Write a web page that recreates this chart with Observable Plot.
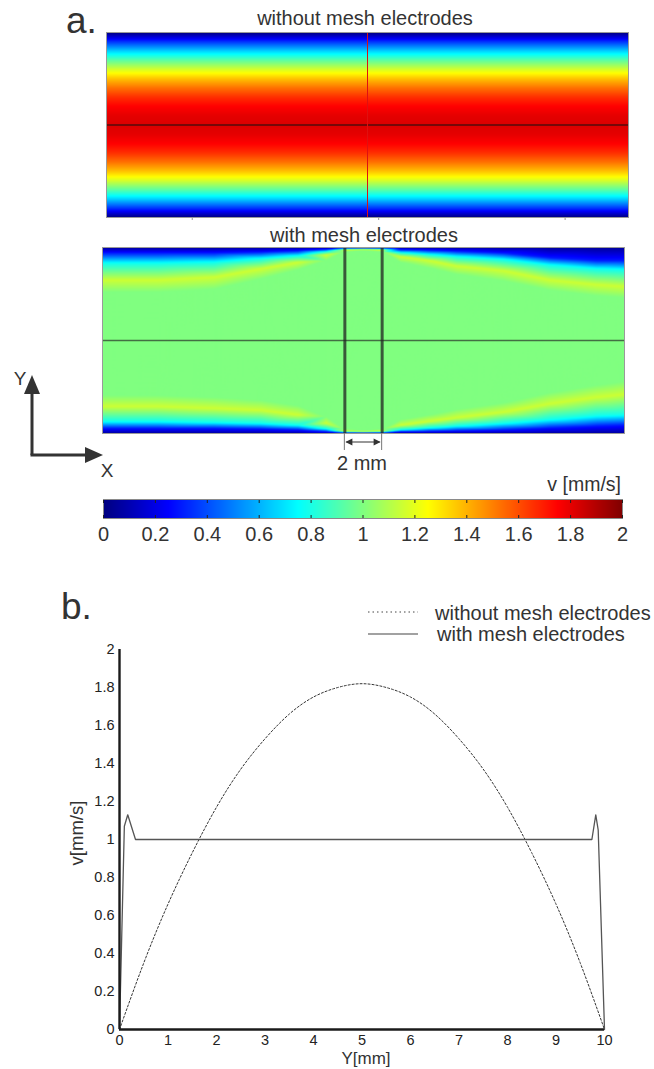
<!DOCTYPE html>
<html>
<head>
<meta charset="utf-8">
<script src="https://cdn.jsdelivr.net/npm/d3@7"></script>
<script src="https://cdn.jsdelivr.net/npm/@observablehq/plot@0.6"></script>
<style>
html, body { margin: 0; padding: 0; background: #fff; }
#root { position: relative; width: 654px; height: 1069px; overflow: hidden; font-family: "Liberation Sans", Arial, sans-serif; }
.pane { position: absolute; left: 0; }
#overlay { position: absolute; left: 0; top: 0; pointer-events: none; font-family: "Liberation Sans", Arial, sans-serif; }
</style>
</head>
<body>
<div id="root"></div>
<script>
// ---------------- DATA ----------------
// Panel b: velocity profile across the channel (Y in mm, v in mm/s)
const profileY = [0, 0.5, 1, 1.5, 2, 2.5, 3, 3.5, 4, 4.5, 5, 5.5, 6, 6.5, 7, 7.5, 8, 8.5, 9, 9.5, 10];
const withoutV = [0, 0.35, 0.66, 0.93, 1.17, 1.37, 1.53, 1.66, 1.75, 1.80, 1.82, 1.80, 1.75, 1.66, 1.53, 1.37, 1.17, 0.93, 0.66, 0.35, 0];
const withY = [0, 0.1, 0.17, 0.33, 9.74, 9.82, 9.87, 10];
const withV = [0, 1.07, 1.13, 1.0, 1.0, 1.13, 1.05, 0];

const seriesLabels = ["without mesh electrodes", "with mesh electrodes"];
const vTicks = [0, 0.2, 0.4, 0.6, 0.8, 1, 1.2, 1.4, 1.6, 1.8, 2];
const yTicks = [0, 1, 2, 3, 4, 5, 6, 7, 8, 9, 10];

// Panel a: channel geometry (mm)
const channelLength = 28;
const channelWidth = 10;
const centerLine = [5];
const probeLine = [14];
const electrodeX = [13, 15];
const topTicks = [4.6, 14.6, 24.6];

// Panel a (with electrodes): wall band depths (mm from wall) at columns along X
const hmX       = [0,    3,    6,    8.5,  10.5, 12,   13,   14,   15,   16,   17.5, 19,   21.5, 24,   26.5, 28];
const topBlue   = [0.3,  0.3,  0.3,  0.25, 0.18, 0.1,  0.04, 0.03, 0.04, 0.12, 0.15, 0.2,  0.3,  0.55, 0.7,  0.7];
const topCyan   = [0.85, 0.85, 0.8,  0.6,  0.45, 0.22, 0.08, 0.06, 0.08, 0.28, 0.38, 0.5,  0.65, 0.95, 1.15, 1.2];
const topYellow = [1.75, 1.75, 1.6,  1.15, 0.8,  0.4,  0.14, 0.1,  0.14, 0.5,  0.7,  1.0,  1.25, 1.75, 2.0,  2.1];
const topGreen  = [2.4,  2.4,  2.25, 1.7,  1.2,  0.7,  0.22, 0.17, 0.22, 0.8,  1.1,  1.45, 1.8,  2.3,  2.6,  2.7];
const botBlue   = [0.28, 0.28, 0.28, 0.25, 0.2,  0.1,  0.04, 0.03, 0.04, 0.1,  0.12, 0.15, 0.2,  0.3,  0.4,  0.45];
const botCyan   = [0.65, 0.65, 0.6,  0.55, 0.45, 0.25, 0.08, 0.06, 0.08, 0.2,  0.3,  0.4,  0.55, 0.75, 0.95, 1.0];
const botYellow = [1.45, 1.45, 1.35, 1.25, 1.0,  0.55, 0.14, 0.1,  0.14, 0.45, 0.65, 0.85, 1.15, 1.6,  1.95, 2.1];
const botGreen  = [2.05, 2.05, 1.95, 1.8,  1.5,  0.9,  0.22, 0.17, 0.22, 0.75, 1.0,  1.3,  1.65, 2.2,  2.6,  2.8];
// velocity at those band levels (mm/s)
const wallV = 0.05, blueV = 0.3, cyanV = 0.78, yellowV = 1.15, coreV = 1.0;

// jet colour map over v in [0, 2]
const jetDomain = [0, 0.25, 0.75, 1.25, 1.75, 2];
const jetRange = ["#00007f", "#0000ff", "#00ffff", "#ffff00", "#ff0000", "#7f0000"];

// ---------------- TABLES ----------------
const withoutData = profileY.map((y, i) => ({y, v: withoutV[i]}));
const withData = withY.map((y, i) => ({y, v: withV[i]}));
const topField = profileY.flatMap((y, i) => [0, channelLength].map(x => ({x, y, v: withoutV[i]})));
const H = channelWidth;
const bottomField = hmX.flatMap((x, i) => [
  {x, y: 0, v: wallV},
  {x, y: botBlue[i], v: blueV},
  {x, y: botCyan[i], v: cyanV},
  {x, y: botYellow[i], v: yellowV},
  {x, y: botGreen[i], v: coreV},
  {x, y: H - topGreen[i], v: coreV},
  {x, y: H - topYellow[i], v: yellowV},
  {x, y: H - topCyan[i], v: cyanV},
  {x, y: H - topBlue[i], v: blueV},
  {x, y: H, v: wallV}
]);

const jet = {type: "linear", domain: jetDomain, range: jetRange, interpolate: "rgb", clamp: true};
const baseStyle = {fontFamily: "Liberation Sans, Arial, sans-serif", color: "#333", background: "transparent", overflow: "visible"};
const fmt = d3.format("~g");

const root = document.getElementById("root");
function place(plot, top) {
  const d = document.createElement("div");
  d.className = "pane";
  d.style.top = top + "px";
  d.appendChild(plot);
  root.appendChild(d);
  return plot;
}

// ---------------- PANEL a: without electrodes ----------------
place(Plot.plot({
  width: 654, height: 230,
  marginLeft: 106, marginRight: 26, marginTop: 32, marginBottom: 13,
  style: baseStyle,
  x: {domain: [0, channelLength], axis: null},
  y: {domain: [0, channelWidth], axis: null},
  color: jet,
  marks: [
    Plot.raster(topField, {x: "x", y: "y", fill: "v", interpolate: "barycentric", x1: 0, x2: channelLength, y1: 0, y2: channelWidth}),
    Plot.ruleY(centerLine, {stroke: "#111", strokeWidth: 1.2}),
    Plot.ruleX(probeLine, {stroke: "#e01010", strokeWidth: 1}),
    Plot.frame({stroke: "#9a9a9a"}),
    Plot.axisX(topTicks, {anchor: "bottom", tickSize: 3, stroke: "#999", tickFormat: () => "", label: null})
  ]
}), 0);

// ---------------- PANEL a: with electrodes ----------------
const HM2_TOP = 230;
const hm2 = place(Plot.plot({
  width: 654, height: 230,
  marginLeft: 102, marginRight: 30, marginTop: 17, marginBottom: 27,
  style: baseStyle,
  x: {domain: [0, channelLength], axis: null},
  y: {domain: [0, channelWidth], axis: null},
  color: jet,
  marks: [
    Plot.raster(bottomField, {x: "x", y: "y", fill: "v", interpolate: "barycentric", x1: 0, x2: channelLength, y1: 0, y2: channelWidth}),
    Plot.ruleY(centerLine, {stroke: "#222", strokeOpacity: 0.65, strokeWidth: 1.5}),
    Plot.ruleX(electrodeX, {stroke: "#222", strokeOpacity: 0.75, strokeWidth: 3}),
    Plot.frame({stroke: "#9a9a9a"})
  ]
}), HM2_TOP);

// ---------------- colour bar ----------------
place(Plot.plot({
  width: 654, height: 70,
  marginLeft: 103, marginRight: 32, marginTop: 19, marginBottom: 32,
  style: baseStyle,
  x: {domain: [0, 2]},
  y: {domain: [0, 1], axis: null},
  color: jet,
  marks: [
    Plot.raster({fill: (x, y) => x, x1: 0, x2: 2, y1: 0, y2: 1}),
    Plot.frame({stroke: "#8a8a8a"}),
    Plot.axisX(vTicks, {anchor: "bottom", tickSize: -3, stroke: "#222", tickFormat: () => "", label: null}),
    Plot.axisX(vTicks, {anchor: "top", tickSize: -3, stroke: "#222", tickFormat: () => "", label: null}),
    Plot.axisX(vTicks, {anchor: "bottom", tickSize: 0, tickPadding: 8, fontSize: 20, tickFormat: fmt, label: null, color: "#333"})
  ]
}), 480);

// ---------------- PANEL b ----------------
place(Plot.plot({
  width: 654, height: 509,
  marginLeft: 119, marginRight: 50, marginTop: 89, marginBottom: 40,
  style: baseStyle,
  x: {domain: [0, 10]},
  y: {domain: [0, 2]},
  marks: [
    Plot.axisY(vTicks, {tickSize: 0, tickPadding: 5, fontSize: 14.5, tickFormat: fmt, label: null, color: "#222"}),
    Plot.axisX(yTicks, {tickSize: 0, tickPadding: 5, fontSize: 14.5, tickFormat: fmt, label: null, color: "#222"}),
    Plot.line(withoutData, {x: "y", y: "v", stroke: "#333", strokeWidth: 1, strokeDasharray: "2,2", curve: "natural"}),
    Plot.line(withData, {x: "y", y: "v", stroke: "#555", strokeWidth: 1.3}),
    Plot.ruleX([0], {stroke: "#1a1a1a", strokeWidth: 2.4}),
    Plot.ruleY([0], {stroke: "#1a1a1a", strokeWidth: 2.4})
  ]
}), 560);

// ---------------- annotations overlay ----------------
const NS = "http://www.w3.org/2000/svg";
const ov = document.createElementNS(NS, "svg");
ov.setAttribute("id", "overlay");
ov.setAttribute("width", 654);
ov.setAttribute("height", 1069);
function el(tag, attrs) {
  const e = document.createElementNS(NS, tag);
  for (const k in attrs) e.setAttribute(k, attrs[k]);
  ov.appendChild(e);
  return e;
}
function text(s, x, y, size, anchor = "start", extra = {}) {
  const t = el("text", {x, y, "font-size": size, "text-anchor": anchor, fill: "#333", ...extra});
  t.textContent = s;
  return t;
}

// panel letters and titles
text("a.", 66, 33, 37);
text(seriesLabels[0], 365, 25, 20, "middle");
text(seriesLabels[1], 364, 242, 20, "middle");
text("b.", 61, 619, 37);

// XY orientation arrows
el("line", {x1: 32, y1: 455, x2: 32, y2: 392, stroke: "#333", "stroke-width": 3});
el("line", {x1: 30.5, y1: 455, x2: 87, y2: 455, stroke: "#333", "stroke-width": 3});
el("polygon", {points: "32,375 24,394 40,394", fill: "#333"});
el("polygon", {points: "103,455 85,447 85,463", fill: "#333"});
text("Y", 20, 385, 19, "middle");
text("X", 107, 477, 19, "middle");

// 2 mm dimension between electrodes (positions from the heatmap's x scale)
const sx = hm2.scale("x"), sy = hm2.scale("y");
const e1 = sx.apply(electrodeX[0]), e2 = sx.apply(electrodeX[1]);
const wallPx = HM2_TOP + sy.apply(0);
el("line", {x1: e1, y1: wallPx, x2: e1, y2: wallPx + 17, stroke: "#777", "stroke-width": 1});
el("line", {x1: e2, y1: wallPx, x2: e2, y2: wallPx + 17, stroke: "#777", "stroke-width": 1});
el("line", {x1: e1 + 2, y1: wallPx + 9, x2: e2 - 2, y2: wallPx + 9, stroke: "#333", "stroke-width": 1.2});
el("polygon", {points: `${e1 + 1},${wallPx + 9} ${e1 + 8},${wallPx + 5.5} ${e1 + 8},${wallPx + 12.5}`, fill: "#333"});
el("polygon", {points: `${e2 - 1},${wallPx + 9} ${e2 - 8},${wallPx + 5.5} ${e2 - 8},${wallPx + 12.5}`, fill: "#333"});
text("2 mm", (e1 + e2) / 2 - 1, 470, 20, "middle");

// colour bar label
text("v [mm/s]", 621, 491, 19.5, "end");

// panel b legend
el("line", {x1: 368, y1: 612, x2: 418, y2: 612, stroke: "#444", "stroke-width": 1, "stroke-dasharray": "1.5,3"});
el("line", {x1: 368, y1: 634, x2: 418, y2: 634, stroke: "#444", "stroke-width": 1.2});
text(seriesLabels[0], 435, 620, 20);
text(seriesLabels[1], 437, 641, 20);

// panel b axis labels
text("v[mm/s]", 0, 0, 18.5, "middle", {transform: "translate(83,833) rotate(-90)"});
text("Y[mm]", 366, 1064, 17, "middle");

root.appendChild(ov);
</script>
</body>
</html>
